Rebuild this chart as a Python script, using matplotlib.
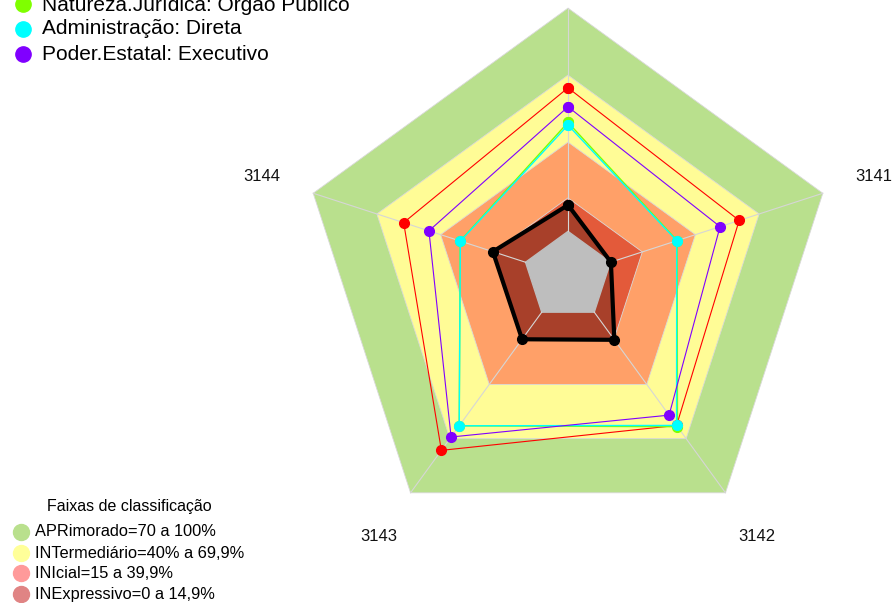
import numpy as np
import matplotlib
matplotlib.use("Agg")
import matplotlib.pyplot as plt
from matplotlib.lines import Line2D

# ---------------- data ----------------
axes_labels = ["3145", "3141", "3142", "3143", "3144"]   # clockwise from top (top label is off-image)
show_label = [False, True, True, True, True]

band_limits = [100, 70, 40, 15]
band_colors = ["#B9E08D", "#FFFC96", "#FFA068", "#E35A3A"]

series_names = ["Natureza.Jurídica: Órgão Público", "Administração: Direta",
                "Poder.Estatal: Executivo"]
red_color = "#FF0000"
series_colors = ["#7FFF00", "#00FFFF", "#8000FF"]
red_vals    = [64.3, 60.6, 62.7, 76.5, 57.4]
green_vals  = [48.8, 31.4, 63.4, 62.9, 30.8]
cyan_vals   = [47.6, 31.2, 62.7, 62.9, 30.7]
purple_vals = [55.8, 51.6, 57.0, 69.1, 45.5]
black_vals  = [11.8, 0.2, 15.3, 15.0, 15.4]

legend_title = "Faixas de classificação"
legend_bands = ["APRimorado=70 a 100%", "INTermediário=40% a 69,9%",
                "INIcial=15 a 39,9%", "INExpressivo=0 a 14,9%"]
legend_band_colors = ["#B9E08D", "#FFFF99", "#FF9A9A", "#E08484"]

# ---------------- layout ----------------
OFFSET = 20.0          # radial hole (value 0 sits at this radius)
n = len(axes_labels)
angles = np.pi / 2 - np.arange(n) * 2 * np.pi / n


def xy(vals):
    r = OFFSET + np.asarray(vals, float)
    x = r * np.cos(angles)
    y = r * np.sin(angles)
    return np.append(x, x[0]), np.append(y, y[0])


plt.rcParams['font.family'] = ['Liberation Sans', 'DejaVu Sans']
W, H = 894, 603
fig = plt.figure(figsize=(W / 100, H / 100), dpi=100)
ax = fig.add_axes([0, 0, 1, 1])
ax.set_xlim(-254.4, 146.0)
ax.set_ylim(-146.4, 123.6)
ax.set_aspect('equal')
ax.axis('off')

# bands
for lim, col in zip(band_limits, band_colors):
    x, y = xy([lim] * n)
    ax.fill(x, y, color=col, ec="#D9D9D9", lw=0.6, zorder=1)

# black series fill
x, y = xy(black_vals)
ax.fill(x, y, color="#A8402A", zorder=2)

# gray centre
x, y = xy([0] * n)
ax.fill(x, y, color="#BEBEBE", zorder=3)

# spokes
for a in angles:
    ax.plot([OFFSET * np.cos(a), (OFFSET + 100) * np.cos(a)],
            [OFFSET * np.sin(a), (OFFSET + 100) * np.sin(a)],
            color="#D6D6D6", lw=0.8, zorder=4)

# series
for vals, col, lw in [(red_vals, red_color, 0.8),
                      (green_vals, series_colors[0], 1.0),
                      (cyan_vals, series_colors[1], 1.0),
                      (purple_vals, series_colors[2], 0.8)]:
    x, y = xy(vals)
    ax.plot(x, y, color=col, lw=lw, marker='o', ms=7, mec=col, zorder=5)

x, y = xy(black_vals)
ax.plot(x, y, color="black", lw=3, marker='o', ms=7, zorder=6)

# axis labels
label_r = OFFSET + 100 + 24.2
for lab, a, show in zip(axes_labels, angles, show_label):
    if not show:
        continue
    ax.text(label_r * np.cos(a), label_r * np.sin(a), lab, ha='center',
            va='center', fontsize=12, color="#111111")


def fig_marker(px, py, col, size):
    fig.add_artist(Line2D([px / W], [1 - py / H], marker='o', ms=size, color=col,
                          mec=col, transform=fig.transFigure))


# top-left series legend (first entry clipped at the top of the image)
for name, col, py in zip(series_names, series_colors, [4, 29, 54]):
    fig_marker(23, py, col, 11)
    fig.text(42 / W, 1 - py / H, name, color="black", fontsize=15, ha='left',
             va='center')

# bottom-left band legend
fig.text(129 / W, 1 - 506 / H, legend_title, fontsize=11.5, ha='center', va='center')
for lab, col, py in zip(legend_bands, legend_band_colors, [532, 553, 573, 594]):
    fig_marker(21, py, col, 11.5)
    fig.text(35 / W, 1 - py / H, lab, fontsize=11.8, ha='left', va='center')

fig.savefig("out.png", dpi=100)
